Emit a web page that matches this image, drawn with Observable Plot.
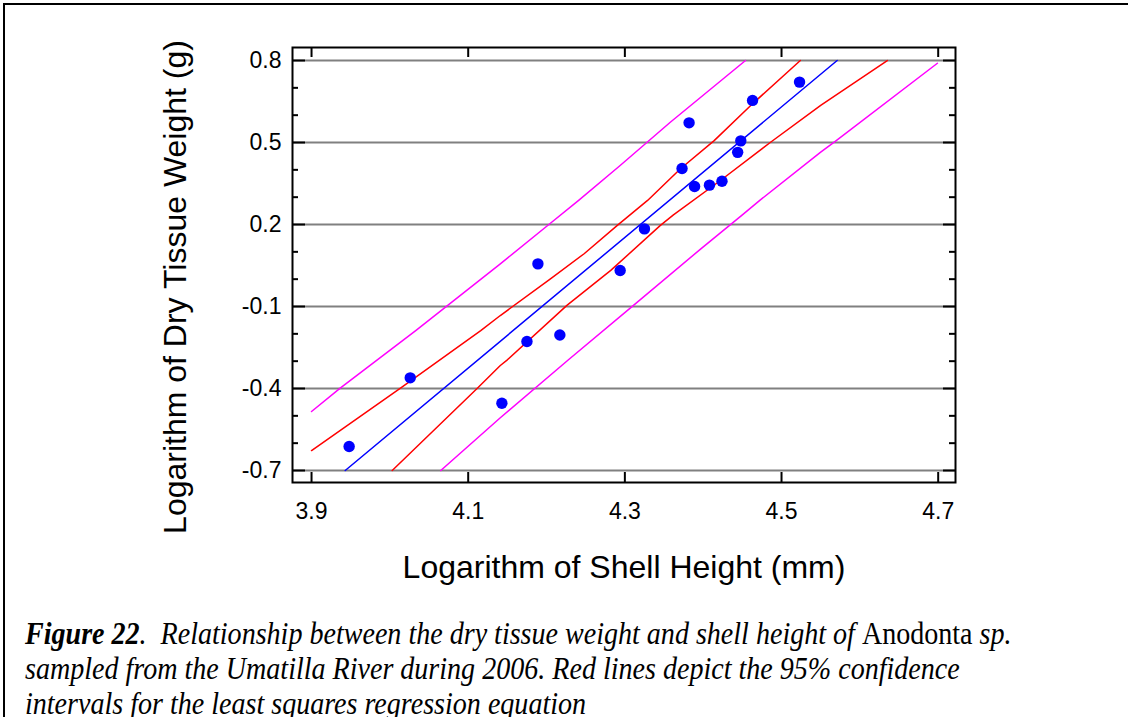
<!DOCTYPE html>
<html>
<head>
<meta charset="utf-8">
<script src="https://cdn.jsdelivr.net/npm/d3@7"></script>
<script src="https://cdn.jsdelivr.net/npm/@observablehq/plot@0.6"></script>
<style>
html,body{margin:0;padding:0;background:#fff;overflow:hidden;width:1128px;height:717px;position:relative}
#box{position:absolute;left:3px;top:3px;width:1140px;height:740px;border:2px solid #000;box-sizing:border-box}
#chart{position:absolute;left:0;top:0}
#caption{position:absolute;left:25px;top:616px;font-family:"Liberation Serif","Times New Roman",serif;font-size:31px;line-height:35px;transform:scaleX(0.905);transform-origin:0 0;white-space:nowrap;font-style:italic;color:#000}
#caption div{height:35px}
</style>
</head>
<body>
<div id="box"></div>
<div id="chart"></div>
<div id="caption">
<div><b>Figure 22</b>.&nbsp; Relationship between the dry tissue weight and shell height of <span style="font-style:normal">Anodonta</span> sp.</div>
<div>sampled from the Umatilla River during 2006. Red lines depict the 95% confidence</div>
<div>intervals for the least squares regression equation</div>
</div>
<script>
// Observed data points
const pointsX = [3.948, 4.026, 4.143, 4.175, 4.217, 4.189, 4.294, 4.325, 4.373, 4.382, 4.389, 4.408, 4.424, 4.444, 4.448, 4.463, 4.523];
const pointsY = [-0.612, -0.361, -0.454, -0.228, -0.204, 0.056, 0.032, 0.184, 0.405, 0.572, 0.339, 0.344, 0.358, 0.464, 0.506, 0.654, 0.721];

// Fitted regression line
const fitX = [3.943, 4.571];
const fitY = [-0.70, 0.80];

// 95% confidence limits (red)
const confUpperX = [3.900, 4.014, 4.116, 4.141, 4.205, 4.248, 4.290, 4.329, 4.371, 4.414, 4.465, 4.524];
const confUpperY = [-0.627, -0.398, -0.188, -0.133, 0.001, 0.093, 0.196, 0.288, 0.404, 0.507, 0.647, 0.800];
const confLowerX = [4.003, 4.112, 4.141, 4.150, 4.226, 4.282, 4.345, 4.362, 4.422, 4.486, 4.550, 4.635];
const confLowerY = [-0.700, -0.398, -0.316, -0.295, -0.096, 0.032, 0.196, 0.235, 0.361, 0.501, 0.636, 0.800];

// Prediction limits (magenta)
const predUpperX = [3.900, 3.937, 4.033, 4.141, 4.203, 4.241, 4.294, 4.358, 4.454];
const predUpperY = [-0.484, -0.398, -0.188, 0.056, 0.200, 0.288, 0.416, 0.574, 0.800];
const predLowerX = [4.065, 4.141, 4.228, 4.311, 4.397, 4.450, 4.473, 4.550, 4.569, 4.699];
const predLowerY = [-0.700, -0.507, -0.295, -0.096, 0.111, 0.235, 0.290, 0.465, 0.505, 0.790];

// Ticks
const xTicks = [3.9, 4.1, 4.3, 4.5, 4.7];
const yMajor = [-0.7, -0.4, -0.1, 0.2, 0.5, 0.8];
const yMinor = [-0.6, -0.5, -0.3, -0.2, 0.0, 0.1, 0.3, 0.4, 0.6, 0.7];

const xLabel = "Logarithm of Shell Height (mm)";
const yLabel = "Logarithm of Dry Tissue Weight (g)";

const zip = (xs, ys) => xs.map((x, i) => ({x, y: ys[i]}));
const points = zip(pointsX, pointsY);
const fit = zip(fitX, fitY);
const confUpper = zip(confUpperX, confUpperY);
const confLower = zip(confLowerX, confLowerY);
const predUpper = zip(predUpperX, predUpperY);
const predLower = zip(predLowerX, predLowerY);

const W = 1128, H = 600, mL = 292, mR = 173, mT = 47, mB = 118;
const fw = W - mL - mR, fh = H - mT - mB;
const fmt = d => d.toFixed(1);

const chart = Plot.plot({
  width: W, height: H,
  marginLeft: mL, marginRight: mR, marginTop: mT, marginBottom: mB,
  x: {domain: [3.8757, 4.7221]},
  y: {domain: [-0.7439, 0.8476]},
  style: {fontFamily: "'Liberation Sans', Arial, sans-serif", color: "#000", background: "transparent"},
  marks: [
    Plot.ruleY(yMajor, {stroke: "#808080", strokeWidth: 2}),
    Plot.line(predUpper, {x: "x", y: "y", stroke: "#ff00ff", strokeWidth: 1.5}),
    Plot.line(predLower, {x: "x", y: "y", stroke: "#ff00ff", strokeWidth: 1.5}),
    Plot.line(confUpper, {x: "x", y: "y", stroke: "#ff0000", strokeWidth: 1.5}),
    Plot.line(confLower, {x: "x", y: "y", stroke: "#ff0000", strokeWidth: 1.5}),
    Plot.line(fit, {x: "x", y: "y", stroke: "#0000ff", strokeWidth: 1.5}),
    Plot.dot(points, {x: "x", y: "y", r: 5.7, fill: "#0000ff", stroke: "none"}),
    // left ticks
    Plot.tickY(yMajor, {y: d => d, insetRight: fw - 13, stroke: "#000", strokeWidth: 2}),
    Plot.tickY(yMinor, {y: d => d, insetRight: fw - 6, stroke: "#000", strokeWidth: 2}),
    // right ticks
    Plot.tickY(yMajor, {y: d => d, insetLeft: fw - 12, stroke: "#000", strokeWidth: 2}),
    Plot.tickY(yMinor, {y: d => d, insetLeft: fw - 6, stroke: "#000", strokeWidth: 2}),
    // top and bottom ticks
    Plot.tickX(xTicks, {x: d => d, insetBottom: fh - 10, stroke: "#000", strokeWidth: 2}),
    Plot.tickX(xTicks, {x: d => d, insetTop: fh - 10, stroke: "#000", strokeWidth: 2}),
    Plot.frame({stroke: "#000", strokeWidth: 2}),
    Plot.axisX(xTicks, {tickSize: 0, tickPadding: 20, tickFormat: fmt, label: null, fontSize: 23}),
    Plot.axisY(yMajor, {tickSize: 0, tickPadding: 11, tickFormat: fmt, label: null, fontSize: 23}),
    Plot.text([xLabel], {text: d => d, frameAnchor: "bottom", textAnchor: "middle", lineAnchor: "middle", dy: 85, fontSize: 32}),
    Plot.text([yLabel], {text: d => d, frameAnchor: "left", textAnchor: "middle", lineAnchor: "middle", dx: -117, dy: 22, rotate: -90, fontSize: 32})
  ]
});
document.getElementById("chart").appendChild(chart);
</script>
</body>
</html>
